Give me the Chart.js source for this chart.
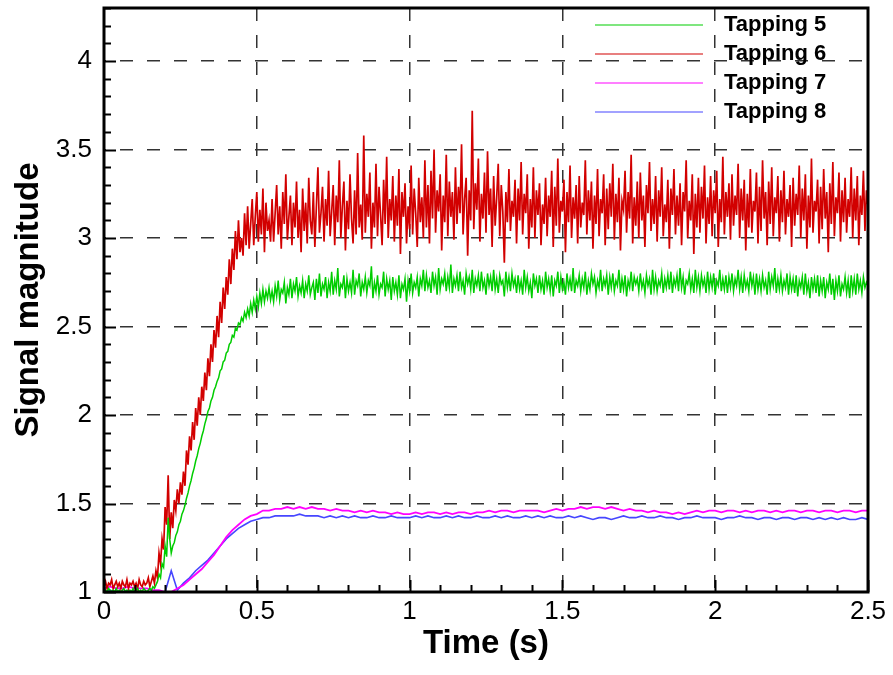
<!DOCTYPE html>
<html>
<head>
<meta charset="utf-8">
<script src="https://cdn.jsdelivr.net/npm/chart.js@4"></script>
<style>
  body { margin: 0; background: #fff; }
</style>
</head>
<body>
<canvas id="signalChart" width="893" height="675"></canvas>
<script>
// sample spacing (s) of the dense and coarse records
const fineStep = 0.005;
const coarseStep = 0.02;

const seriesNames = ['Tapping 5', 'Tapping 6', 'Tapping 7', 'Tapping 8'];
const xTickValues = [0, 0.5, 1, 1.5, 2, 2.5];
const yTickValues = [1, 1.5, 2, 2.5, 3, 3.5, 4];

// Tapping 5, every 0.005 s
const tapping5 = [
  1.00,1.01,1.00,1.02,1.01,1.00,1.01,1.00,1.02,1.00, 1.01,1.00,1.01,1.02,1.00,1.01,1.00,1.01,1.00,1.02,
  1.00,1.01,1.02,1.00,1.01,1.00,1.02,1.01,1.00,1.01, 1.02,1.01,1.03,1.02,
  1.04,1.06,1.10,1.08,1.16,1.14,1.26,1.20,1.42,1.30, 1.22,1.26,1.28,1.32,1.34,1.38,1.40,1.44,1.46,1.49,
  1.53,1.56,1.60,1.63,1.67,1.70,1.74,1.77,1.81,1.84, 1.88,1.91,1.95,1.98,2.02,2.04,2.08,2.10,2.14,2.16,
  2.19,2.21,2.25,2.26,2.30,2.31,2.35,2.36,2.40,2.41, 2.45,2.44,2.49,2.48,2.52,2.51,2.55,2.53,2.58,2.55,
  2.60,2.56,2.63,2.58,2.65,2.60,2.67,2.61,2.69,2.63, 2.71,2.64,2.70,2.66,2.72,2.65,
  2.70,2.64,2.73,2.67,2.76,2.65,2.71,2.69,2.75,2.63, 2.72,2.68,2.77,2.66,2.74,2.70,2.78,2.67,2.73,2.69,
  2.76,2.66,2.74,2.70,2.79,2.68,2.72,2.75,2.65,2.77, 2.69,2.80,2.67,2.74,2.71,2.78,2.66,2.75,2.70,2.81,
  2.68,2.76,2.71,2.83,2.67,2.74,2.72,2.79,2.66,2.77, 2.70,2.75,2.69,2.82,2.68,2.76,2.73,2.80,2.67,2.75,
  2.71,2.78,2.69,2.76,2.73,2.84,2.66,2.75,2.70,2.79, 2.68,2.74,2.72,2.81,2.67,2.77,2.71,2.76,2.65,2.78,
  2.70,2.75,2.68,2.79,2.66,2.74,2.71,2.77,2.64,2.76, 2.70,2.80,2.69,2.75,2.72,2.78,2.67,2.77,2.73,2.82,
  2.70,2.79,2.72,2.76,2.69,2.81,2.73,2.78,2.68,2.83, 2.71,2.77,2.74,2.80,2.70,2.78,2.72,2.85,2.69,2.77,
  2.73,2.79,2.70,2.81,2.72,2.76,2.68,2.80,2.74,2.78, 2.71,2.82,2.69,2.77,2.73,2.79,2.70,2.81,2.72,2.76,
  2.68,2.80,2.73,2.78,2.70,2.82,2.71,2.77,2.69,2.79, 2.74,2.76,2.67,2.81,2.72,2.78,2.70,2.80,2.73,2.77,
  2.69,2.79,2.71,2.76,2.68,2.82,2.72,2.78,2.70,2.75, 2.66,2.80,2.73,2.77,2.69,2.79,2.71,2.76,2.68,2.81,
  2.72,2.77,2.70,2.79,2.67,2.76,2.73,2.81,2.69,2.78, 2.71,2.75,2.68,2.80,2.72,2.77,2.70,2.83,2.69,2.76,
  2.73,2.79,2.70,2.77,2.72,2.81,2.68,2.76,2.71,2.80, 2.74,2.78,2.69,2.76,2.72,2.82,2.70,2.77,2.73,2.79,
  2.68,2.78,2.72,2.80,2.70,2.76,2.73,2.82,2.69,2.77, 2.71,2.79,2.67,2.76,2.72,2.81,2.70,2.78,2.74,2.77,
  2.70,2.80,2.72,2.76,2.69,2.79,2.73,2.77,2.68,2.82, 2.71,2.78,2.70,2.76,2.73,2.80,2.69,2.77,2.72,2.79,
  2.71,2.81,2.69,2.77,2.73,2.79,2.70,2.83,2.72,2.78, 2.68,2.76,2.74,2.80,2.71,2.77,2.69,2.82,2.72,2.78,
  2.70,2.79,2.73,2.77,2.69,2.81,2.71,2.78,2.72,2.80, 2.68,2.76,2.73,2.82,2.70,2.77,2.71,2.79,2.69,2.78,
  2.72,2.80,2.70,2.77,2.73,2.82,2.71,2.78,2.69,2.79, 2.72,2.76,2.70,2.81,2.73,2.78,2.68,2.80,2.71,2.77,
  2.70,2.79,2.72,2.76,2.68,2.81,2.71,2.78,2.73,2.83, 2.69,2.77,2.71,2.79,2.70,2.76,2.72,2.80,2.68,2.78,
  2.71,2.77,2.69,2.79,2.67,2.76,2.72,2.78,2.68,2.80, 2.70,2.75,2.66,2.78,2.71,2.77,2.69,2.79,2.67,2.76,
  2.70,2.78,2.66,2.75,2.71,2.80,2.68,2.77,2.65,2.76, 2.70,2.79,2.67,2.74,2.71,2.78,2.69,2.76,2.66,2.79,
  2.70,2.77,2.68,2.80,2.71,2.76,2.69,2.78,2.72,2.75, 2.73
];

// Tapping 6, every 0.005 s
const tapping6 = [
  1.03,1.06,1.02,1.05,1.04,1.07,1.02,1.04,1.06,1.03, 1.05,1.02,1.06,1.04,1.03,1.07,1.02,1.05,1.04,1.06,
  1.03,1.05,1.02,1.07,1.04,1.03,1.06,1.04,1.05,1.08, 1.03,1.06,1.09,1.05,
  1.12,1.08,1.22,1.16,1.30,1.24,1.48,1.38,1.66,1.30, 1.45,1.36,1.52,1.46,1.58,1.50,1.62,1.55,1.68,1.60,
  1.80,1.72,1.88,1.80,1.96,1.86,2.04,1.94,2.10,2.00, 2.16,2.08,2.24,2.14,2.32,2.22,2.40,2.30,2.48,2.38,
  2.56,2.44,2.64,2.52,2.72,2.60,2.78,2.68,2.88,2.74, 2.94,2.82,3.04,2.88,3.10,2.92,3.00,2.90,3.14,2.96,
  3.18,2.94,3.08,3.22,2.96,3.12,3.26,2.98,3.16,3.02, 3.28,2.92,3.20,3.04,3.10,2.98,
  3.22,2.98,3.14,3.30,3.02,3.18,2.94,3.26,3.08,3.36, 2.99,3.12,3.24,2.96,3.20,3.06,3.32,3.00,3.16,2.92,
  3.28,3.04,3.20,2.97,3.34,3.10,3.02,3.26,2.95,3.18, 3.40,3.03,3.14,3.29,2.98,3.22,3.07,3.38,3.01,3.15,
  3.30,2.96,3.24,3.09,3.44,3.00,3.18,3.32,2.93,3.21, 3.05,3.36,3.11,2.97,3.27,3.02,3.48,3.06,3.19,2.99,
  3.58,3.03,3.25,3.12,3.37,2.94,3.20,3.06,3.42,3.01, 3.29,3.13,2.96,3.33,3.08,3.46,3.00,3.22,3.10,3.35,
  2.98,3.24,3.07,3.39,2.91,3.26,3.12,3.31,2.97,3.18, 3.05,3.41,3.02,3.28,3.14,2.95,3.34,3.09,3.23,3.00,
  3.44,3.06,3.30,2.97,3.38,3.11,3.50,3.03,3.27,3.15, 3.36,2.93,3.24,3.09,3.47,3.01,3.32,3.12,3.26,2.99,
  3.40,3.08,3.29,3.14,3.53,3.02,3.22,3.34,2.90,3.27, 3.10,3.72,3.05,3.31,3.16,3.45,2.98,3.25,3.11,3.37,
  3.03,3.49,3.13,3.28,2.95,3.35,3.07,3.23,3.42,3.01, 3.30,3.15,2.86,3.26,3.09,3.39,3.04,3.21,3.12,3.33,
  2.97,3.28,3.10,3.43,3.02,3.25,3.14,3.36,2.94,3.22, 3.06,3.40,3.00,3.27,3.13,3.31,2.96,3.19,3.08,3.34,
  3.01,3.24,3.12,3.38,2.95,3.29,3.07,3.45,3.03,3.21, 3.15,3.33,2.92,3.26,3.09,3.41,3.00,3.23,3.11,3.30,
  2.97,3.35,3.06,3.20,3.13,3.44,3.02,3.27,3.10,3.32, 2.94,3.24,3.08,3.39,3.01,3.22,3.14,3.36,2.96,3.28,
  3.05,3.31,3.12,3.42,2.99,3.25,3.09,3.34,2.93,3.21, 3.16,3.38,3.03,3.26,3.11,3.47,2.97,3.23,3.07,3.32,
  3.00,3.37,3.10,3.24,2.95,3.30,3.14,3.43,3.04,3.22, 3.08,3.35,2.98,3.27,3.12,3.40,3.01,3.19,3.09,3.33,
  2.94,3.28,3.13,3.39,3.02,3.24,3.07,3.31,2.96,3.26, 3.15,3.44,3.00,3.21,3.10,3.36,2.91,3.25,3.06,3.34,
  3.03,3.29,3.11,3.41,2.97,3.23,3.08,3.35,3.01,3.27, 3.14,3.38,2.95,3.22,3.09,3.46,3.02,3.26,3.12,3.31,
  2.99,3.36,3.07,3.24,3.13,3.42,3.00,3.28,3.10,3.33, 2.93,3.25,3.06,3.39,3.03,3.21,3.15,3.37,2.97,3.29,
  3.04,3.44,3.11,3.26,2.96,3.32,3.08,3.40,3.01,3.23, 3.14,3.35,2.98,3.27,3.09,3.38,3.02,3.22,3.12,3.30,
  2.95,3.34,3.07,3.25,3.13,3.41,3.00,3.28,3.10,3.36, 2.94,3.24,3.06,3.45,3.03,3.21,3.15,3.33,2.97,3.29,
  3.05,3.39,3.11,3.26,2.92,3.31,3.08,3.43,3.01,3.23, 3.14,3.37,2.98,3.27,3.09,3.34,3.03,3.22,3.12,3.40,
  3.00,3.28,3.10,3.35,2.96,3.24,3.13,3.38,3.04,3.27, 3.18
];

// Tapping 7, every 0.02 s
const tapping7 = [
  1.02,1.03,1.02,1.02,1.03,1.02,1.02,1.02,1.01,1.01,
  1.00,1.00,1.02,1.04,1.07,1.10,1.13,1.17,1.21,1.26,
  1.31,1.35,1.38,1.41,1.43,1.44,1.46,1.46,1.47,1.47,
  1.48,1.47,1.48,1.47,1.48,1.47,1.47,1.46,1.47,1.46,
  1.46,1.45,1.46,1.45,1.46,1.45,1.45,1.44,1.45,1.44,
  1.44,1.45,1.44,1.45,1.45,1.44,1.45,1.44,1.45,1.45,
  1.44,1.45,1.45,1.46,1.45,1.46,1.46,1.45,1.46,1.46,
  1.46,1.46,1.45,1.46,1.47,1.46,1.47,1.47,1.48,1.47,
  1.48,1.48,1.47,1.48,1.47,1.46,1.47,1.46,1.46,1.45,
  1.46,1.45,1.45,1.44,1.45,1.44,1.45,1.46,1.45,1.46,
  1.46,1.45,1.46,1.46,1.45,1.46,1.45,1.46,1.46,1.45,
  1.46,1.45,1.46,1.46,1.45,1.46,1.46,1.45,1.46,1.46,
  1.45,1.46,1.46,1.45,1.46,1.46
];

// Tapping 8, every 0.02 s
const tapping8 = [
  1.00,1.01,1.00,1.00,1.01,1.00,1.00,1.00,1.00,1.00,
  1.00,1.12,1.01,1.05,1.08,1.12,1.15,1.18,1.22,1.26,
  1.30,1.33,1.36,1.38,1.40,1.41,1.42,1.42,1.43,1.43,
  1.43,1.43,1.44,1.43,1.43,1.43,1.42,1.43,1.42,1.43,
  1.42,1.43,1.42,1.42,1.43,1.42,1.42,1.43,1.42,1.42,
  1.42,1.43,1.42,1.43,1.42,1.42,1.43,1.42,1.43,1.42,
  1.42,1.43,1.42,1.42,1.43,1.42,1.43,1.42,1.42,1.43,
  1.42,1.43,1.42,1.43,1.42,1.42,1.43,1.42,1.43,1.42,
  1.41,1.42,1.42,1.41,1.42,1.43,1.42,1.42,1.43,1.42,
  1.42,1.43,1.42,1.42,1.41,1.42,1.42,1.43,1.42,1.42,
  1.42,1.41,1.42,1.42,1.43,1.42,1.42,1.41,1.42,1.42,
  1.41,1.42,1.42,1.41,1.42,1.42,1.41,1.42,1.41,1.42,
  1.41,1.42,1.41,1.41,1.42,1.41
];

const seriesColors = ['rgb(0,205,0)', 'rgb(210,0,0)', 'rgb(255,0,255)', 'rgb(70,70,255)'];

function toPoints(values, step) {
  return values.map((v, i) => ({ x: +(i * step).toFixed(3), y: v }));
}

// frame, inward ticks and the in-plot legend
const framePlugin = {
  id: 'frame',
  afterDraw(chart) {
    const ctx = chart.ctx;
    const a = chart.chartArea;
    const xs = chart.scales.x, ys = chart.scales.y;
    ctx.save();
    ctx.strokeStyle = '#000';
    ctx.lineWidth = 2;
    for (let i = 0; i <= 25; i++) {
      const px = Math.round(xs.getPixelForValue(i / 10)) + 0.5;
      const len = i % 5 === 0 ? 12 : 7;
      ctx.beginPath();
      ctx.moveTo(px, a.bottom);
      ctx.lineTo(px, a.bottom - len);
      ctx.stroke();
    }
    for (let i = 10; i <= 43; i++) {
      const py = Math.round(ys.getPixelForValue(i / 10)) + 0.5;
      const len = i % 5 === 0 ? 12 : 7;
      ctx.beginPath();
      ctx.moveTo(a.left, py);
      ctx.lineTo(a.left + len, py);
      ctx.stroke();
    }
    ctx.lineWidth = 3;
    ctx.strokeRect(a.left, a.top, a.right - a.left, a.bottom - a.top);

    ctx.font = 'bold 22px "Liberation Sans", Arial, sans-serif';
    ctx.textBaseline = 'middle';
    ctx.fillStyle = '#000';
    chart.data.datasets.forEach((ds, i) => {
      const y = 25 + i * 29;
      ctx.strokeStyle = ds.borderColor;
      ctx.lineWidth = 1.2;
      ctx.beginPath();
      ctx.moveTo(595, y);
      ctx.lineTo(703, y);
      ctx.stroke();
      ctx.fillText(ds.label, 724, y);
    });
    ctx.restore();
  }
};

const tickFont = { family: '"Liberation Sans", Arial, sans-serif', size: 26 };
const titleFont = { family: '"Liberation Sans", Arial, sans-serif', size: 33, weight: 'bold' };

new Chart(document.getElementById('signalChart').getContext('2d'), {
  type: 'line',
  data: {
    datasets: [
      { label: seriesNames[0], data: toPoints(tapping5, fineStep), borderColor: seriesColors[0], borderWidth: 1.5 },
      { label: seriesNames[1], data: toPoints(tapping6, fineStep), borderColor: seriesColors[1], borderWidth: 1.7 },
      { label: seriesNames[2], data: toPoints(tapping7, coarseStep), borderColor: seriesColors[2], borderWidth: 1.8 },
      { label: seriesNames[3], data: toPoints(tapping8, coarseStep), borderColor: seriesColors[3], borderWidth: 1.6 }
    ]
  },
  options: {
    responsive: false,
    animation: false,
    devicePixelRatio: 1,
    layout: { padding: { top: 8, right: 25, left: 0, bottom: 0 } },
    elements: {
      point: { radius: 0 },
      line: { borderWidth: 1, tension: 0 }
    },
    plugins: {
      legend: { display: false },
      tooltip: { enabled: false }
    },
    scales: {
      x: {
        type: 'linear',
        min: 0,
        max: 2.5,
        z: 1,
        afterFit(scale) {
          scale.height = 83;
          scale.paddingLeft = 0;
          scale.paddingRight = 0;
        },
        afterBuildTicks(scale) { scale.ticks = xTickValues.map(v => ({ value: v })); },
        ticks: { font: tickFont, color: '#000', padding: 4, maxRotation: 0, callback: v => String(v) },
        grid: { color: '#333', lineWidth: 1.5, drawTicks: false },
        border: { display: false, dash: [13, 14], dashOffset: 0 },
        title: { display: true, text: 'Time (s)', font: titleFont, color: '#000', padding: { top: 0, bottom: 11 } }
      },
      y: {
        type: 'linear',
        min: 1,
        max: 4.3,
        z: 1,
        afterFit(scale) {
          scale.width = 104;
          scale.paddingTop = 0;
          scale.paddingBottom = 0;
        },
        afterBuildTicks(scale) { scale.ticks = yTickValues.map(v => ({ value: v })); },
        ticks: { font: tickFont, color: '#000', padding: 12, callback: v => String(v) },
        grid: { color: '#333', lineWidth: 1.5, drawTicks: false },
        border: { display: false, dash: [13, 14], dashOffset: 11 },
        title: { display: true, text: 'Signal magnitude', font: titleFont, color: '#000', padding: { top: 9, bottom: 0 } }
      }
    }
  },
  plugins: [framePlugin]
});
</script>
</body>
</html>
